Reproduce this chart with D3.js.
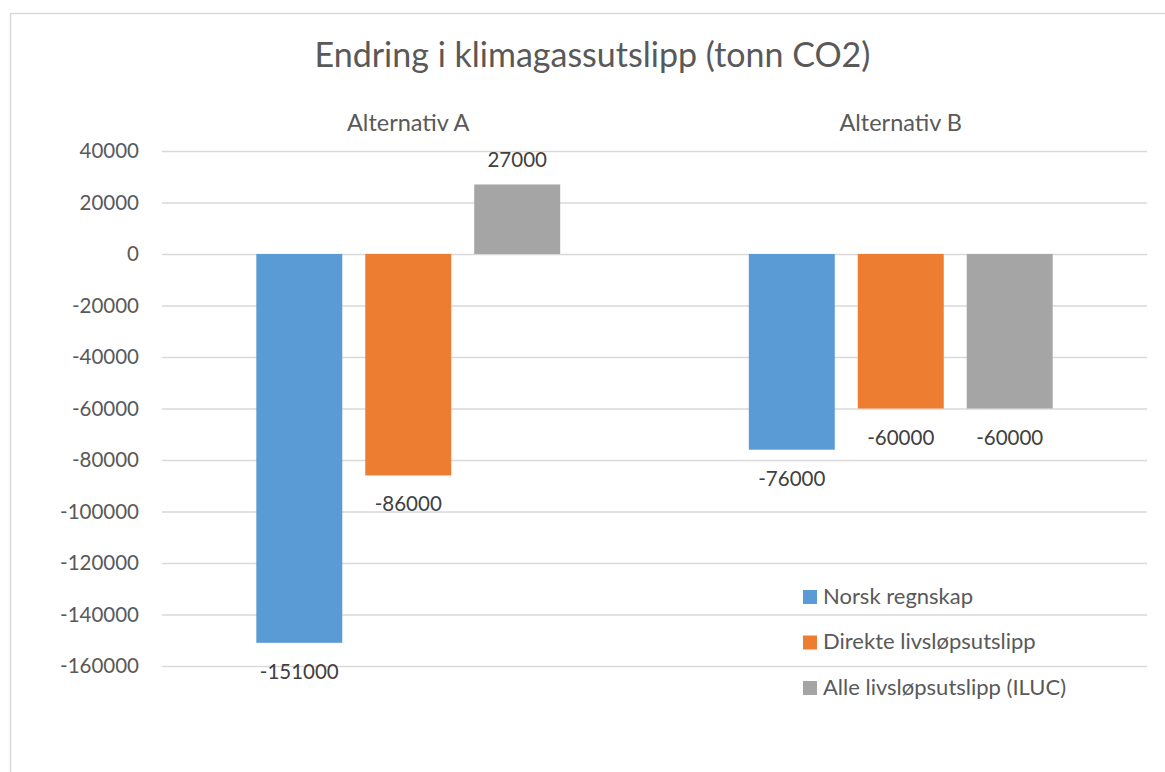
<!DOCTYPE html>
<html>
<head>
<meta charset="utf-8">
<script src="https://cdn.jsdelivr.net/npm/d3@7"></script>
<style>
  html, body { margin: 0; padding: 0; background: #ffffff; }
  svg { display: block; font-family: Lato, "Open Sans", sans-serif; }
</style>
</head>
<body>
<svg id="chart" width="1165" height="772"></svg>
<script>
// Change in greenhouse gas emissions per alternative (tonnes CO2)
const categories = ["Alternativ A", "Alternativ B"];
const seriesNames = ["Norsk regnskap", "Direkte livsløpsutslipp", "Alle livsløpsutslipp (ILUC)"];
const seriesColors = ["#5B9BD5", "#ED7D31", "#A5A5A5"];
const norskRegnskap = [-151000, -76000];
const direkteLivslop = [-86000, -60000];
const alleLivslop = [27000, -60000];
const yTicks = [40000, 20000, 0, -20000, -40000, -60000, -80000, -100000, -120000, -140000, -160000];
const title = "Endring i klimagassutslipp (tonn CO2)";

const seriesValues = [norskRegnskap, direkteLivslop, alleLivslop];
const rows = [];
categories.forEach((c, ci) => {
  seriesNames.forEach((s, si) => rows.push({ category: c, series: s, value: seriesValues[si][ci], color: seriesColors[si] }));
});

// plain integers with an ASCII hyphen for negatives
const fmt = v => String(v);

const svg = d3.select("#chart");
const textColor = "#595959";
const gridColor = "#d9d9d9";

// chart area frame
svg.append("rect")
  .attr("x", 10.5).attr("y", 13.5)
  .attr("width", 1170).attr("height", 780)
  .attr("fill", "none").attr("stroke", gridColor).attr("stroke-width", 1.5);

const plot = { left: 162, right: 1147, top: 151, bottom: 666 };

const y = d3.scaleLinear().domain([-160000, 40000]).range([plot.bottom, plot.top]);
const x = d3.scaleBand().domain(categories).range([plot.left, plot.right])
  .paddingInner(0.383).paddingOuter(0.1915);
const xs = d3.scaleBand().domain(seriesNames).range([0, x.bandwidth()]).paddingInner(0.211);

// gridlines
const grid = svg.append("g")
  .attr("transform", `translate(${plot.left},0)`)
  .call(d3.axisRight(y).tickValues(yTicks).tickSize(plot.right - plot.left).tickFormat(""));
grid.select(".domain").remove();
grid.selectAll(".tick line").attr("stroke", gridColor).attr("stroke-width", 1.5);

// y axis labels
const yAxis = svg.append("g")
  .attr("transform", `translate(${plot.left},0)`)
  .call(d3.axisLeft(y).tickValues(yTicks).tickSize(0).tickPadding(23).tickFormat(fmt));
yAxis.select(".domain").remove();
yAxis.selectAll(".tick text")
  .attr("fill", textColor).style("font-size", "20.5px").style("font-family", "Lato, sans-serif");

// title
svg.append("text")
  .attr("x", 592.5).attr("y", 67)
  .attr("text-anchor", "middle").attr("fill", textColor)
  .style("font-size", "34px")
  .text(title);

// category labels at top
svg.append("g").selectAll("text").data(categories).join("text")
  .attr("x", d => x(d) + x.bandwidth() / 2)
  .attr("y", 131)
  .attr("text-anchor", "middle").attr("fill", textColor)
  .style("font-size", "23.5px")
  .text(d => d);

// bars
svg.append("g").selectAll("rect").data(rows).join("rect")
  .attr("x", d => x(d.category) + xs(d.series))
  .attr("width", xs.bandwidth())
  .attr("y", d => y(Math.max(0, d.value)))
  .attr("height", d => Math.abs(y(d.value) - y(0)))
  .attr("fill", d => d.color);

// data labels
svg.append("g").selectAll("text").data(rows).join("text")
  .attr("x", d => x(d.category) + xs(d.series) + xs.bandwidth() / 2)
  .attr("y", d => d.value >= 0 ? y(d.value) - 17.5 : y(d.value) + 36)
  .attr("text-anchor", "middle").attr("fill", "#404040")
  .style("font-size", "20.5px")
  .text(d => fmt(d.value));

// legend
const legend = svg.append("g").attr("transform", "translate(803,590)");
const items = legend.selectAll("g").data(seriesNames).join("g")
  .attr("transform", (d, i) => `translate(0,${i * 45.5})`);
items.append("rect").attr("width", 14).attr("height", 14)
  .attr("fill", (d, i) => seriesColors[i]);
items.append("text").attr("x", 20).attr("y", 13.5)
  .attr("fill", textColor).style("font-size", "22px")
  .text(d => d);
</script>
</body>
</html>
